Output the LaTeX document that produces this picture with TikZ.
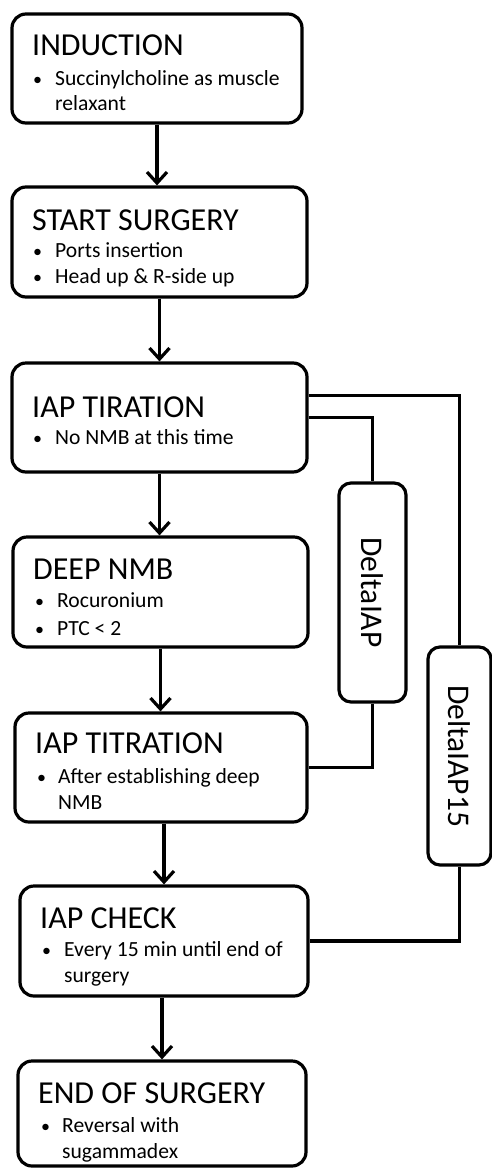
\documentclass[tikz,border=0pt]{standalone}
\usepackage{fontspec}
\setmainfont{Carlito}
\usetikzlibrary{arrows.meta}
\begin{document}
\begin{tikzpicture}[x=1pt,y=-1pt,
  stage/.style={draw=black, line width=3.2pt, rounded corners=14pt, fill=white, inner sep=0pt},
  sidebox/.style={draw=black, line width=3.2pt, rounded corners=12pt, fill=white, inner sep=0pt},
  ttl/.style={anchor=base west, inner sep=0pt, font=\fontsize{32}{38}\selectfont},
  itm/.style={anchor=base west, inner sep=0pt, font=\fontsize{21.6}{26}\selectfont},
  dot/.style={anchor=base west, inner sep=0pt, font=\fontsize{18}{26}\selectfont},
  sidetext/.style={inner sep=0pt, rotate=-90, font=\fontsize{31.5}{36}\selectfont},
  flow/.style={line width=3.2pt, -{Straight Barb[length=11pt,width=20pt,line width=3.2pt]}},
  link/.style={line width=3.2pt}]
\useasboundingbox (0,0) rectangle (492,1168);
\fill[white] (0,0) rectangle (492,1168);

% stage boxes
\node[stage, minimum width=290pt, minimum height=109pt] (b1) at (157,68.5) {};
\node[stage, minimum width=295pt, minimum height=110pt] (b2) at (159.5,242) {};
\node[stage, minimum width=295pt, minimum height=109pt] (b3) at (159.5,417.5) {};
\node[stage, minimum width=295pt, minimum height=110pt] (b4) at (160.5,592) {};
\node[stage, minimum width=292pt, minimum height=109pt] (b5) at (161,767.5) {};
\node[stage, minimum width=288pt, minimum height=110pt] (b6) at (164,941) {};
\node[stage, minimum width=288pt, minimum height=105pt] (b7) at (162,1113.5) {};

% side boxes
\node[sidebox, minimum width=67pt, minimum height=219pt] (d1) at (372.5,592.5) {};
\node[sidebox, minimum width=63pt, minimum height=218pt] (d2) at (459.5,756) {};
\node[sidetext] (d1t) at (d1) {DeltaIAP};
\node[sidetext] (d2t) at (d2) {DeltaIAP15};

% texts
\node[ttl] (t1) at (32,55) {INDUCTION};
\node[dot] (p1a) at (33,85) {•};
\node[itm] (s1a) at (55,85) {Succinylcholine as muscle};
\node[itm] (s1b) at (55,110) {relaxant};

\node[ttl] (t2) at (32,230) {START SURGERY};
\node[dot] (p2a) at (33,257) {•};
\node[itm] (s2a) at (55,257) {Ports insertion};
\node[dot] (p2b) at (33,283) {•};
\node[itm] (s2b) at (55,283) {Head up \& R-side up};

\node[ttl] (t3) at (32,417) {IAP TIRATION};
\node[dot] (p3a) at (33,444) {•};
\node[itm] (s3a) at (55,444) {No NMB at this time};

\node[ttl] (t4) at (33,579) {DEEP NMB};
\node[dot] (p4a) at (35,607) {•};
\node[itm] (s4a) at (57,607) {Rocuronium};
\node[dot] (p4b) at (35,635) {•};
\node[itm] (s4b) at (57,635) {PTC < 2};

\node[ttl] (t5) at (35,753) {IAP TITRATION};
\node[dot] (p5a) at (37,783) {•};
\node[itm] (s5a) at (58,783) {After establishing deep};
\node[itm] (s5b) at (58,809) {NMB};

\node[ttl] (t6) at (40,928) {IAP CHECK};
\node[dot] (p6a) at (42,956) {•};
\node[itm] (s6a) at (64,956) {Every 15 min until end of};
\node[itm] (s6b) at (64,982) {surgery};

\node[ttl] (t7) at (38,1103) {END OF SURGERY};
\node[dot] (p7a) at (41,1132) {•};
\node[itm] (s7a) at (62,1132) {Reversal with};
\node[itm] (s7b) at (62,1158) {sugammadex};

% main flow
\draw[flow] (b1.south) -- (b1.south |- b2.north);
\draw[flow] (b2.south) -- (b2.south |- b3.north);
\draw[flow] (b3.south) -- (b3.south |- b4.north);
\draw[flow] (b4.south) -- (b4.south |- b5.north);
\draw[flow] (b6.north |- b5.south) -- (b6.north);
\draw[flow] (b7.north |- b6.south) -- (b7.north);

% side connections
\draw[link] (b3.east) -| (d1.north);
\draw[link] (d1.south) |- (b5.east);
\draw[link] ([yshift=22pt]b3.east) -| (d2.north);
\draw[link] (d2.south) |- (b6.east);
\end{tikzpicture}
\end{document}
